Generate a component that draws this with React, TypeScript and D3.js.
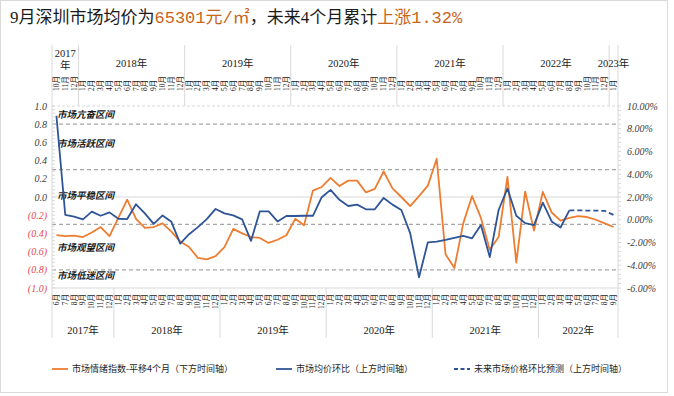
import React from "react";
import * as d3 from "d3";

// 市场情绪指数-平移4个月 (bottom axis: 2017-06 .. 2022-09)
const sentiment = [
  -0.42, -0.43, -0.425, -0.44, -0.39, -0.33, -0.43, -0.23, -0.03, -0.24,
  -0.34, -0.33, -0.29, -0.38, -0.49, -0.55, -0.67, -0.685, -0.65, -0.55,
  -0.35, -0.4, -0.44, -0.45, -0.505, -0.47, -0.42, -0.24, -0.31, 0.07,
  0.11, 0.21, 0.12, 0.18, 0.18, 0.05, 0.09, 0.28, 0.095, 0.0,
  -0.1, 0.01, 0.125, 0.42, -0.63, -0.78, -0.29, 0.01, -0.23, -0.58,
  -0.44, 0.22, -0.72, 0.06, -0.37, 0.055, -0.17, -0.26, -0.23, -0.21,
  -0.22, -0.25, -0.29, -0.33,
];

// 市场均价环比 % (top axis: 2017-10 .. 2022-08)
const priceMoM = [
  9.14, 0.42, 0.27, 0.03, 0.71, 0.35, 0.65, 0.09, 0.06, 1.36,
  0.56, -0.36, 0.38, -0.18, -2.1, -1.27, -0.65, 0.06, 0.95, 0.56,
  0.38, 0.03, -1.86, 0.74, 0.74, -0.15, 0.33, 0.33, 0.35, 0.35,
  1.98, 2.63, 1.75, 1.21, 1.33, 0.92, 0.92, 1.92, 1.33, 0.86,
  -1.18, -5.06, -1.98, -1.92, -1.77, -1.6, -1.42, -1.63, -0.47, -3.28,
  0.86, 2.75, 0.35, -0.3, -0.47, 1.51, -0.15, -0.68, 0.83,
];

// 未来市场价格环比预测 % (top axis: 2022-08 .. 2023-01)
const forecastMoM = [0.83, 0.83, 0.8, 0.8, 0.78, 0.42];
const forecastStartIndex = 58;

const bottomYears = ["2017年", "2018年", "2019年", "2020年", "2021年", "2022年"];
const bottomYearMonths = [[6, 12], [1, 12], [1, 12], [1, 12], [1, 12], [1, 9]];
const topYears = ["2017年", "2018年", "2019年", "2020年", "2021年", "2022年", "2023年"];
const topYearMonths = [[10, 12], [1, 12], [1, 12], [1, 12], [1, 12], [1, 12], [1, 1]];

const leftTicks = [1, 0.8, 0.6, 0.4, 0.2, 0, -0.2, -0.4, -0.6, -0.8, -1];
const rightTicks = [10, 8, 6, 4, 2, 0, -2, -4, -6];
const zoneLines = [0.8, 0.3, -0.3, -0.8];
const zoneLabels = ["市场亢奋区间", "市场活跃区间", "市场平稳区间", "市场观望区间", "市场低迷区间"];
const zoneLabelValues = [0.9, 0.59, 0.02, -0.56, -0.87];

const legendItems = [
  "市场情绪指数-平移4个月（下方时间轴）",
  "市场均价环比（上方时间轴）",
  "未来市场价格环比预测（上方时间轴）",
];

const ORANGE = "#ED7D31";
const BLUE = "#2F5597";
const TITLE_ORANGE = "#C8651B";
const CJK = "'Noto Sans CJK SC', sans-serif";
const SERIF = "'Liberation Serif', 'Noto Sans CJK SC', serif";

function expandMonths(ranges: number[][]) {
  const out: { label: string; seg: number }[] = [];
  ranges.forEach(([a, b], seg) => {
    for (let m = a; m <= b; m++) out.push({ label: `${m}月`, seg });
  });
  return out;
}

export default function App() {
  const W = 674, H = 396;
  const x0 = 52, x1 = 618, yTop = 106, yBot = 288;
  const bottomMonths = expandMonths(bottomYearMonths);
  const topMonths = expandMonths(topYearMonths);
  const n = bottomMonths.length;

  const x = d3.scaleBand<number>().domain(d3.range(n)).range([x0, x1]).padding(0);
  const cx = (i: number) => (x(i) as number) + x.bandwidth() / 2;
  const yL = d3.scaleLinear().domain([-1, 1]).range([yBot, yTop]);
  const yR = d3.scaleLinear().domain([-6, 10]).range([yBot, yTop]);

  const lineL = d3.line<number>().x((_, i) => cx(i)).y((d) => yL(d));
  const lineR = d3.line<number>().x((_, i) => cx(i)).y((d) => yR(d));
  const lineF = d3.line<number>().x((_, i) => cx(i + forecastStartIndex)).y((d) => yR(d));

  const segBounds = (ranges: number[][]) => {
    const b: number[] = [0];
    let acc = 0;
    ranges.forEach(([a, c]) => { acc += c - a + 1; b.push(acc); });
    return b;
  };
  const bTop = segBounds(topYearMonths);
  const bBot = segBounds(bottomYearMonths);
  const bx = (k: number) => (k >= n ? x1 : (x(k) as number));

  const fmtL = (v: number) => (v < 0 ? `(${Math.abs(v).toFixed(1)})` : v.toFixed(1));
  const fmtR = (v: number) => `${v.toFixed(2)}%`;

  const minorL = d3.range(-1, 1.0001, 0.04);
  const minorR = d3.range(-6, 10.0001, 0.4);

  const legendX = [52, 276, 454];

  return (
    <svg width={W} height={H} style={{ position: "absolute", left: 0, top: 0, background: "#fff" }}>
      <rect x={0.5} y={0.5} width={667} height={392} fill="#fff" stroke="#D9D9D9" />
      {/* Title */}
      <text x={10} y={23} fontSize={17} fontFamily={SERIF} fill="#1a1a1a">
        <tspan>9月深圳市场均价为</tspan>
        <tspan fill={TITLE_ORANGE} fontFamily={"'Liberation Mono', 'Noto Sans CJK SC', monospace"}>65301元/㎡</tspan>
        <tspan>，未来4个月累计</tspan>
        <tspan fill={TITLE_ORANGE} fontFamily={"'Liberation Mono', 'Noto Sans CJK SC', monospace"}>上涨1.32%</tspan>
      </text>

      {/* Top axis separators */}
      {bTop.map((k, j) => (
        <line key={"ts" + j} x1={bx(k)} x2={bx(k)} y1={45} y2={yTop} stroke="#D9D9D9" />
      ))}
      {topYears.map((t, j) => {
        const mid = (bx(bTop[j]) + bx(bTop[j + 1])) / 2;
        if (j === 0) {
          return (
            <text key={"ty" + j} x={mid} y={57} fontSize={10.5} fontFamily={SERIF} textAnchor="middle" fill="#1a1a1a">
              <tspan x={mid}>{t.slice(0, 4)}</tspan>
              <tspan x={mid} dy={12}>{t.slice(4)}</tspan>
            </text>
          );
        }
        return (
          <text key={"ty" + j} x={mid} y={67} fontSize={10.5} fontFamily={SERIF} textAnchor="middle" fill="#1a1a1a">{t}</text>
        );
      })}
      {topMonths.map((m, i) => (
        <text key={"tm" + i} transform={`translate(${cx(i)},91) rotate(-90)`} fontSize={7.5} fontFamily={SERIF}
          textAnchor="start" dominantBaseline="central" fill="#1a1a1a">{m.label}</text>
      ))}

      {/* Bottom axis separators */}
      {bBot.map((k, j) => (
        <line key={"bs" + j} x1={bx(k)} x2={bx(k)} y1={yBot} y2={338} stroke="#D9D9D9" />
      ))}
      {bottomYears.map((t, j) => (
        <text key={"by" + j} x={(bx(bBot[j]) + bx(bBot[j + 1])) / 2} y={334} fontSize={10.5} fontFamily={SERIF}
          textAnchor="middle" fill="#1a1a1a">{t}</text>
      ))}
      {bottomMonths.map((m, i) => (
        <text key={"bm" + i} transform={`translate(${cx(i)},294) rotate(-90)`} fontSize={7.5} fontFamily={SERIF}
          textAnchor="end" dominantBaseline="central" fill="#1a1a1a">{m.label}</text>
      ))}

      {/* Plot frame / grid */}
      <line x1={x0} x2={x1} y1={yTop} y2={yTop} stroke="#D9D9D9" strokeDasharray="3,2" />
      <line x1={x0} x2={x1} y1={yL(0)} y2={yL(0)} stroke="#D9D9D9" />
      <line x1={x0} x2={x1} y1={yBot} y2={yBot} stroke="#D9D9D9" />
      {zoneLines.map((v, j) => (
        <line key={"z" + j} x1={x0} x2={x1} y1={yL(v)} y2={yL(v)} stroke="#A6A6A6" strokeWidth={1.3} strokeDasharray="4,3" />
      ))}

      {/* Left axis */}
      <line x1={x0} x2={x0} y1={yTop} y2={yBot} stroke="#D9D9D9" />
      {minorL.map((v, j) => (
        <line key={"ml" + j} x1={x0} x2={x0 + 3} y1={yL(v)} y2={yL(v)} stroke="#D9D9D9" />
      ))}
      {leftTicks.map((v, j) => (
        <text key={"lt" + j} x={47} y={yL(v)} dy="0.35em" fontSize={10} fontStyle="italic" fontFamily={SERIF}
          textAnchor="end" fill={v < 0 ? "#E8474C" : "#404040"}>{fmtL(v)}</text>
      ))}

      {/* Right axis */}
      <line x1={x1} x2={x1} y1={yTop} y2={yBot} stroke="#D9D9D9" />
      {minorR.map((v, j) => (
        <line key={"mr" + j} x1={x1} x2={x1 + 3} y1={yR(v)} y2={yR(v)} stroke="#D9D9D9" />
      ))}
      {rightTicks.map((v, j) => (
        <text key={"rt" + j} x={627} y={yR(v)} dy="0.35em" fontSize={10} fontStyle="italic" fontFamily={SERIF}
          fill="#404040">{fmtR(v)}</text>
      ))}

      {/* Zone labels */}
      {zoneLabels.map((t, j) => (
        <text key={"zl" + j} x={57} y={yL(zoneLabelValues[j])} dy="0.35em" fontSize={9.5} fontStyle="italic"
          fontWeight="bold" fontFamily={CJK} fill="#1a1a1a">{t}</text>
      ))}

      {/* Series */}
      <path d={lineL(sentiment) || ""} fill="none" stroke={ORANGE} strokeWidth={1.8} strokeLinejoin="round" />
      <path d={lineR(priceMoM) || ""} fill="none" stroke={BLUE} strokeWidth={1.8} strokeLinejoin="round" />
      <path d={lineF(forecastMoM) || ""} fill="none" stroke={BLUE} strokeWidth={1.8} strokeDasharray="5,3" />

      {/* Legend */}
      {legendItems.map((t, j) => (
        <g key={"lg" + j}>
          <line x1={legendX[j]} x2={legendX[j] + 16} y1={369} y2={369}
            stroke={j === 0 ? ORANGE : BLUE} strokeWidth={1.8} strokeDasharray={j === 2 ? "4,2.5" : undefined} />
          <text x={legendX[j] + 20} y={369} dy="0.35em" fontSize={9} fontFamily={CJK} fill="#262626">{t}</text>
        </g>
      ))}
    </svg>
  );
}
